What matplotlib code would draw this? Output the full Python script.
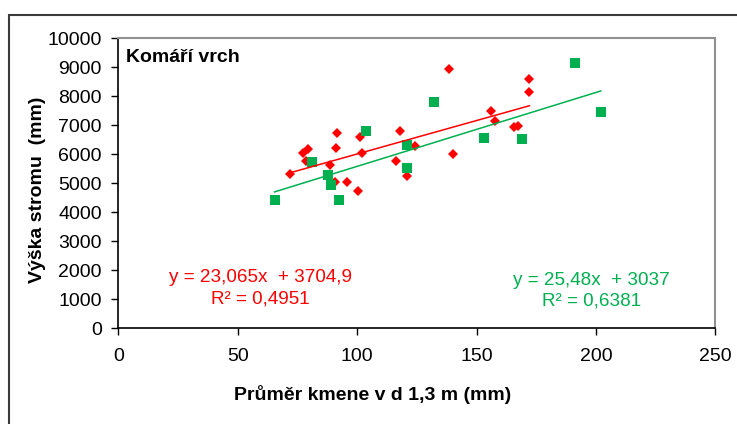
import matplotlib
matplotlib.use('Agg')
import matplotlib.pyplot as plt
import numpy as np
from matplotlib.patches import Rectangle

plt.rcParams['font.family'] = ['Liberation Sans', 'DejaVu Sans']

# red series (diamonds)
red_x = [71.7, 77.2, 79.5, 78.7, 88.8, 91.5, 91.0, 90.7, 95.7, 100.5, 101.2, 102.1,
         116.2, 117.8, 121.0, 124.1, 138.6, 140.2, 156.1, 157.8, 165.8, 167.4, 172.1, 172.1]
red_y = [5310, 6046, 6184, 5782, 5632, 6720, 6207, 5060, 5050, 4740, 6586, 6050,
         5770, 6793, 5263, 6280, 8931, 6005, 7500, 7165, 6953, 6980, 8598, 8155]

# green series (squares)
green_x = [65.4, 81.1, 87.8, 89.2, 92.5, 103.7, 120.9, 120.9, 132.3, 153.1, 168.9, 191.3, 202.0]
green_y = [4414, 5747, 5287, 4935, 4414, 6793, 6310, 5520, 7798, 6552, 6517, 9138, 7448]

red_fit = (23.065, 3704.9)
green_fit = (25.48, 3037)
red_eq = 'y = 23,065x  + 3704,9\nR² = 0,4951'
green_eq = 'y = 25,48x  + 3037\nR² = 0,6381'

RED = '#FF0000'
GREEN = '#00B050'

fig = plt.figure(figsize=(7.37, 4.24), dpi=100)
# outer chart border (only top and left edges visible)
fig.patches.append(Rectangle((9 / 737, -0.1), 1.2, 1.1 - 15.5 / 424, transform=fig.transFigure,
                             fill=False, edgecolor='#3a3a3a', linewidth=1.5))

ax = fig.add_axes([118.4 / 737, 1 - 328.3 / 424, 597 / 737, 290 / 424])

ax.plot(red_x, red_y, linestyle='none', marker='D', ms=5, mew=0, color=RED, zorder=3)
ax.plot(green_x, green_y, linestyle='none', marker='s', ms=7.5, mew=0, color=GREEN, zorder=4)

# trend lines over each series' range
xr = np.array([min(red_x), max(red_x)])
ax.plot(xr, red_fit[0] * xr + red_fit[1], color=RED, lw=1.1, zorder=5)
xg = np.array([min(green_x), max(green_x)])
ax.plot(xg, green_fit[0] * xg + green_fit[1], color=GREEN, lw=1.1, zorder=5)

ax.set_xlim(0, 250)
ax.set_ylim(0, 10000)
ax.set_xticks(np.arange(0, 251, 50))
ax.set_yticks(np.arange(0, 10001, 1000))
ax.tick_params(axis='both', direction='out', length=5, width=1, labelsize=14, colors='black')
ax.tick_params(axis='x', pad=9)
ax.tick_params(axis='y', pad=7)

for s in ['left', 'bottom']:
    ax.spines[s].set_color('black')
    ax.spines[s].set_linewidth(1.2)
for s in ['top', 'right']:
    ax.spines[s].set_color('#909090')
    ax.spines[s].set_linewidth(1.5)

ax.text(0.0127, 0.935, 'Komáří vrch', transform=ax.transAxes, fontsize=14,
        fontweight='bold', va='center', ha='left')
ax.text(59.3, 1380, red_eq, color=RED, fontsize=13.6, ha='center', va='center',
        multialignment='center', linespacing=1.3)
ax.text(198.0, 1295, green_eq, color=GREEN, fontsize=13.6, ha='center', va='center',
        multialignment='center', linespacing=1.3)

fig.text(372.7 / 737, 1 - 395 / 424, 'Průměr kmene v d 1,3 m (mm)', fontsize=14,
         fontweight='bold', ha='center', va='center')
fig.text(38 / 737, 1 - 190 / 424, 'Výška stromu  (mm)', fontsize=14, fontweight='bold',
         ha='center', va='center', rotation=90)

fig.savefig('out.png', dpi=100)
